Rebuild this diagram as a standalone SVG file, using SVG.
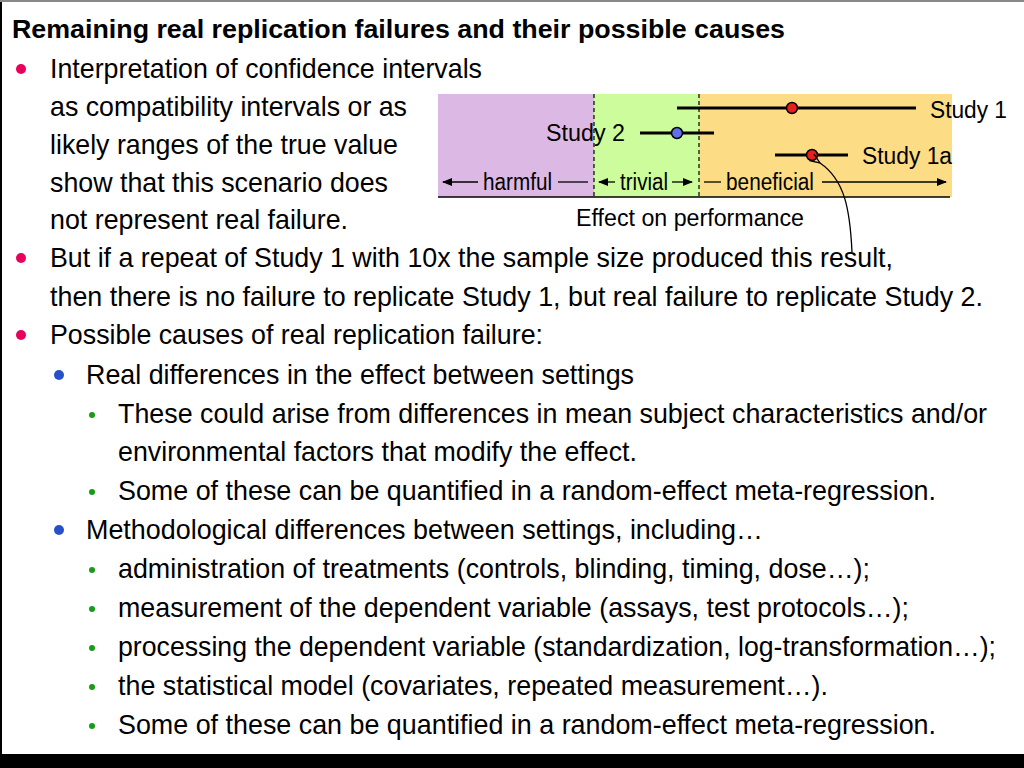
<svg xmlns="http://www.w3.org/2000/svg" width="1024" height="768" viewBox="0 0 1024 768">
<defs>
<marker id="ah" markerWidth="10" markerHeight="8" refX="9" refY="4" orient="auto" markerUnits="userSpaceOnUse"><path d="M0,0 L10,4 L0,8 Z" fill="#000"/></marker>
<marker id="ao" markerWidth="12" markerHeight="10" refX="1" refY="5" orient="auto" markerUnits="userSpaceOnUse"><path d="M11,1 L1,5 L11,9" fill="none" stroke="#000" stroke-width="1.3"/></marker>
</defs>
<style>
text{font-family:"Liberation Sans Narrow","Liberation Sans",Arial,sans-serif;fill:#000}
.b{font-size:28px}
.t{font-size:26px;font-weight:bold}
.s{font-size:23px}
.c{stroke:#000;stroke-width:3}
.d{stroke:#000;stroke-width:1.2;stroke-dasharray:4,3}
</style>
<rect width="1024" height="768" fill="#fff"/>
<rect x="0" y="754" width="1024" height="14" fill="#000"/>
<rect x="0" y="0" width="2" height="768" fill="#000"/>
<rect x="0" y="0" width="1024" height="2" fill="#888"/>
<g id="chart">
<rect x="438" y="94" width="156" height="103" fill="#dcb8e4"/>
<rect x="594" y="94" width="105" height="103" fill="#ccfc9c"/>
<rect x="699" y="94" width="253" height="103" fill="#fcdc84"/>
<line class="d" x1="594" y1="94" x2="594" y2="197"/>
<line class="d" x1="699" y1="94" x2="699" y2="197"/>
<line x1="438" y1="197" x2="950" y2="197" stroke="#000" stroke-width="1.5"/>
<line class="c" x1="677" y1="108" x2="916" y2="108"/>
<circle cx="792" cy="108" r="5.5" fill="#e8201c" stroke="#000" stroke-width="1.5"/>
<text class="s" x="930" y="118" textLength="77" lengthAdjust="spacingAndGlyphs">Study 1</text>
<line class="c" x1="640" y1="133" x2="714" y2="133"/>
<circle cx="677" cy="133" r="5.5" fill="#6070e8" stroke="#000" stroke-width="1.5"/>
<text class="s" x="546" y="141" textLength="79" lengthAdjust="spacingAndGlyphs">Study 2</text>
<line class="c" x1="775" y1="155" x2="848" y2="155"/>
<circle cx="812" cy="155" r="5.5" fill="#e8201c" stroke="#000" stroke-width="1.5"/>
<text class="s" x="862" y="164" textLength="90" lengthAdjust="spacingAndGlyphs">Study 1a</text>
<text class="s" x="483" y="190" textLength="69" lengthAdjust="spacingAndGlyphs">harmful</text>
<line x1="478" y1="182" x2="443" y2="182" stroke="#000" stroke-width="1.3" marker-end="url(#ah)"/>
<line x1="558" y1="182" x2="588" y2="182" stroke="#000" stroke-width="1.3"/>
<text class="s" x="620" y="190" textLength="48" lengthAdjust="spacingAndGlyphs">trivial</text>
<line x1="615" y1="182" x2="599" y2="182" stroke="#000" stroke-width="1.3" marker-end="url(#ah)"/>
<line x1="672" y1="182" x2="692" y2="182" stroke="#000" stroke-width="1.3" marker-end="url(#ah)"/>
<line x1="704" y1="182" x2="721" y2="182" stroke="#000" stroke-width="1.3"/>
<text class="s" x="726" y="190" textLength="88" lengthAdjust="spacingAndGlyphs">beneficial</text>
<line x1="822" y1="182" x2="946" y2="182" stroke="#000" stroke-width="1.3" marker-end="url(#ah)"/>
<text class="s" x="576" y="226" textLength="228" lengthAdjust="spacingAndGlyphs">Effect on performance</text>
</g>
<g id="connectors">
<path d="M852,252 C850,210 845,180 820,163" fill="none" stroke="#000" stroke-width="1.3" marker-end="url(#ao)"/>
</g>
<g id="text">
<text class="t" x="12" y="38" textLength="773" lengthAdjust="spacingAndGlyphs">Remaining real replication failures and their possible causes</text>
<circle cx="21" cy="69" r="5" fill="#e8005a"/>
<circle cx="21" cy="258" r="5" fill="#e8005a"/>
<circle cx="21" cy="335" r="5" fill="#e8005a"/>
<circle cx="59" cy="375" r="5" fill="#2850c8"/>
<circle cx="59" cy="530" r="5" fill="#2850c8"/>
<g fill="#169c16">
<circle cx="92" cy="415" r="3"/><circle cx="92" cy="492" r="3"/><circle cx="92" cy="570" r="3"/><circle cx="92" cy="609" r="3"/><circle cx="92" cy="648" r="3"/><circle cx="92" cy="687" r="3"/><circle cx="92" cy="726" r="3"/>
</g>
<text class="b" x="50" y="78" textLength="432" lengthAdjust="spacingAndGlyphs">Interpretation of confidence intervals</text>
<text class="b" x="50" y="116" textLength="357" lengthAdjust="spacingAndGlyphs">as compatibility intervals or as</text>
<text class="b" x="50" y="154" textLength="348" lengthAdjust="spacingAndGlyphs">likely ranges of the true value</text>
<text class="b" x="50" y="192" textLength="338" lengthAdjust="spacingAndGlyphs">show that this scenario does</text>
<text class="b" x="50" y="229" textLength="298" lengthAdjust="spacingAndGlyphs">not represent real failure.</text>
<text class="b" x="50" y="267" textLength="843" lengthAdjust="spacingAndGlyphs">But if a repeat of Study 1 with 10x the sample size produced this result,</text>
<text class="b" x="50" y="306" textLength="933" lengthAdjust="spacingAndGlyphs">then there is no failure to replicate Study 1, but real failure to replicate Study 2.</text>
<text class="b" x="50" y="344" textLength="493" lengthAdjust="spacingAndGlyphs">Possible causes of real replication failure:</text>
<text class="b" x="86" y="384" textLength="548" lengthAdjust="spacingAndGlyphs">Real differences in the effect between settings</text>
<text class="b" x="118" y="423" textLength="869" lengthAdjust="spacingAndGlyphs">These could arise from differences in mean subject characteristics and/or</text>
<text class="b" x="118" y="461" textLength="519" lengthAdjust="spacingAndGlyphs">environmental factors that modify the effect.</text>
<text class="b" x="118" y="500" textLength="818" lengthAdjust="spacingAndGlyphs">Some of these can be quantified in a random-effect meta-regression.</text>
<text class="b" x="86" y="539" textLength="677" lengthAdjust="spacingAndGlyphs">Methodological differences between settings, including…</text>
<text class="b" x="118" y="578" textLength="752" lengthAdjust="spacingAndGlyphs">administration of treatments (controls, blinding, timing, dose…);</text>
<text class="b" x="118" y="617" textLength="791" lengthAdjust="spacingAndGlyphs">measurement of the dependent variable (assays, test protocols…);</text>
<text class="b" x="118" y="656" textLength="878" lengthAdjust="spacingAndGlyphs">processing the dependent variable (standardization, log-transformation…);</text>
<text class="b" x="118" y="695" textLength="710" lengthAdjust="spacingAndGlyphs">the statistical model (covariates, repeated measurement…).</text>
<text class="b" x="118" y="734" textLength="818" lengthAdjust="spacingAndGlyphs">Some of these can be quantified in a random-effect meta-regression.</text>
</g>
</svg>
